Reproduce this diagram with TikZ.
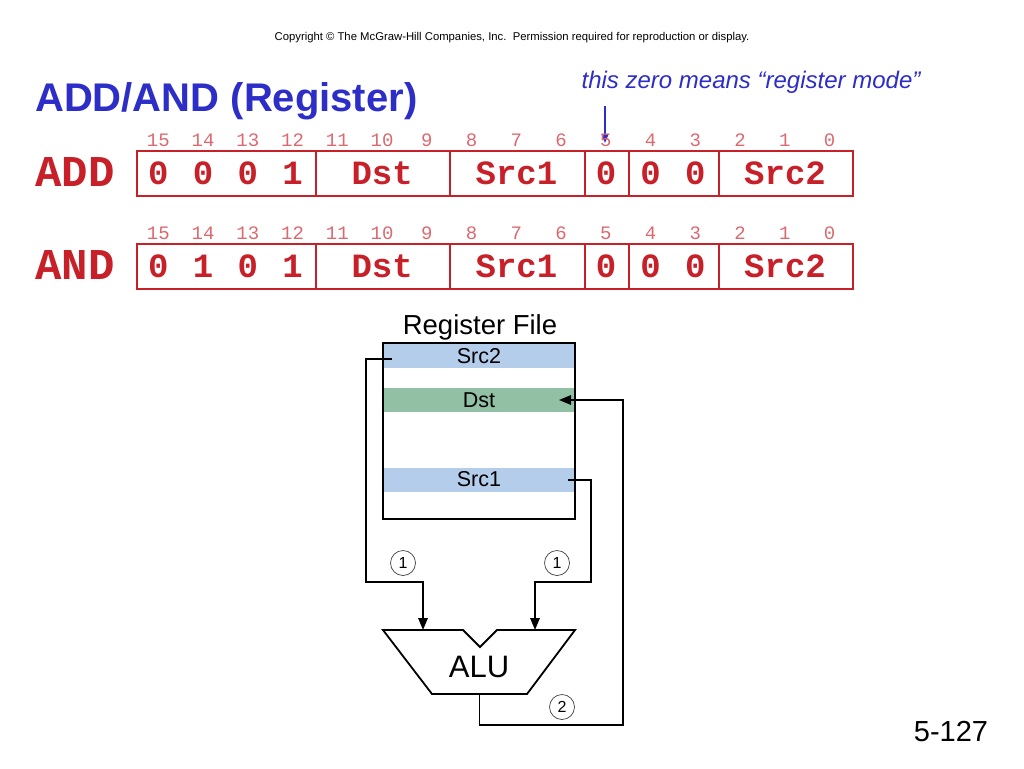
\documentclass[tikz,border=0pt]{standalone}
\usepackage{fontspec}
\setmainfont{Liberation Sans}
\newfontfamily\mono{Liberation Mono}
\usetikzlibrary{arrows.meta}
\definecolor{fred}{RGB}{200,32,40}
\definecolor{bitred}{RGB}{220,105,112}
\definecolor{tblue}{RGB}{45,45,200}
\definecolor{rowblue}{RGB}{180,205,234}
\definecolor{rowgreen}{RGB}{145,192,164}
\begin{document}
\begin{tikzpicture}[x=1pt,y=-1pt,
  fieldbox/.style={draw=fred, line width=2pt, minimum height=45pt, inner sep=0pt, anchor=north west},
  fieldtxt/.style={text=fred, inner sep=0pt, font=\mono\bfseries\fontsize{34}{34}\selectfont},
  bitnum/.style={text=bitred, inner sep=0pt, font=\mono\fontsize{19}{19}\selectfont},
  oplabel/.style={text=fred, inner sep=0pt, font=\mono\bfseries\fontsize{44}{44}\selectfont},
  rowband/.style={minimum width=190pt, minimum height=24pt, inner sep=0pt, font=\fontsize{21.5}{21.5}\selectfont},
  conn/.style={line width=1.6pt},
  tip/.style={-{Triangle[length=12pt,width=9.5pt]}},
  step circ/.style={circle, draw=black!75, line width=0.7pt, minimum size=25pt, inner sep=0pt, font=\fontsize{16}{16}\selectfont}
]
\useasboundingbox (0,0) rectangle (1024,768);
\fill[white] (0,0) rectangle (1024,768);

% header
\node[font=\fontsize{11.3}{11.3}\selectfont, inner sep=0pt] (copy) at (512,38) {Copyright © The McGraw-Hill Companies, Inc.\ \ Permission required for reproduction or display.};
\node[text=tblue, font=\bfseries\fontsize{40}{40}\selectfont, anchor=west, inner sep=0pt] (title) at (35,101) {ADD/AND (Register)};
\node[text=tblue, font=\itshape\fontsize{24}{24}\selectfont, inner sep=0pt] (note) at (751,82) {this zero means “register mode”};
\coordinate (za) at (605,106);
\coordinate (zb) at (605,143);
\draw[tblue, line width=1.5pt, -{Triangle[length=9pt,width=7pt]}] (za) -- (zb);

% instruction rows
\foreach \ty/\op/\dd in {150/ADD/{0,0,0,1}, 243/AND/{0,1,0,1}}{
  \node[oplabel] at (75,\ty+22) {\op};
  \foreach \b in {0,...,15}{
    \node[bitnum] at ({136+(15-\b+0.5)*44.75},\ty-10) {\b};
  }
  \node[fieldbox, minimum width=179pt] at (136,\ty) {};
  \node[fieldbox, minimum width=134.25pt] at (315,\ty) {};
  \node[fieldbox, minimum width=134.25pt] at (449.25,\ty) {};
  \node[fieldbox, minimum width=44.75pt] at (583.5,\ty) {};
  \node[fieldbox, minimum width=89.5pt] at (628.25,\ty) {};
  \node[fieldbox, minimum width=134.25pt] at (717.75,\ty) {};
  \foreach \d [count=\i from 0] in \dd {
    \node[fieldtxt] at ({136+(\i+0.5)*44.75},\ty+23) {\d};
  }
  \node[fieldtxt] at (382.1,\ty+23) {Dst};
  \node[fieldtxt] at (516.4,\ty+23) {Src1};
  \node[fieldtxt] at (606,\ty+23) {0};
  \node[fieldtxt] at (650.6,\ty+23) {0};
  \node[fieldtxt] at (695.4,\ty+23) {0};
  \node[fieldtxt] at (785,\ty+23) {Src2};
}

% register file
\node[font=\fontsize{27.5}{27.5}\selectfont, inner sep=0pt] (rftitle) at (480,327) {Register File};
\node[rowband, fill=rowblue] (src2) at (479,356) {Src2};
\node[rowband, fill=rowgreen] (dst) at (479,400) {Dst};
\node[rowband, fill=rowblue] (src1) at (479,479.5) {Src1};
\node[draw, line width=2.5pt, minimum width=192pt, minimum height=176pt, inner sep=0pt] (rf) at (479,431) {};

% ALU
\draw[line width=1.8pt, line join=miter] (383,630) -- (463,630) -- (480,647) -- (497,630) -- (575,630) -- (527,694) -- (432,694) -- cycle;
\node[font=\fontsize{31}{31}\selectfont, inner sep=0pt] (alu) at (479,667) {ALU};
\coordinate (aluA) at (423,630);
\coordinate (aluB) at (535,630);
\coordinate (aluOut) at (479.5,694);

% connectors
\coordinate (s2out) at (392,359);
\coordinate (s1out) at (568,480);
\coordinate (dstin) at (559,400);
\coordinate (lbend) at (366,582);
\coordinate (rbend) at (591,582);
\coordinate (obend) at (623,725);
\draw[conn, tip] (s2out) -| (lbend) -| (aluA);
\draw[conn, tip] (s1out) -| (rbend) -| (aluB);
\draw[conn, tip] (aluOut) |- (obend) |- (dstin);

\node[step circ] (c1) at (403,563) {1};
\node[step circ] (c2) at (557,563) {1};
\node[step circ] (c3) at (562,707) {2};

% page number
\node[font=\fontsize{29}{29}\selectfont, inner sep=0pt] (page) at (951,732) {5-127};
\end{tikzpicture}
\end{document}
